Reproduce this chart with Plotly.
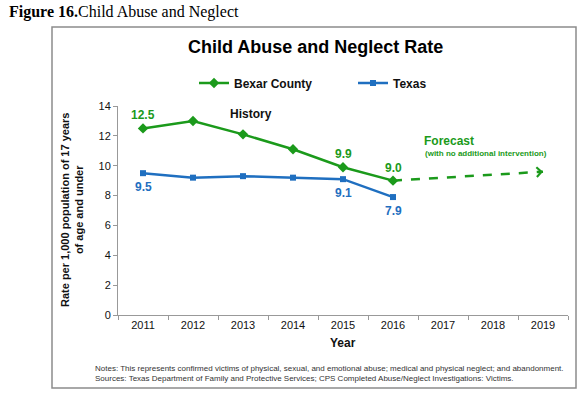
import plotly.graph_objects as go

years = [2011, 2012, 2013, 2014, 2015, 2016, 2017, 2018, 2019]
hist_years = [2011, 2012, 2013, 2014, 2015, 2016]
bexar = [12.5, 13.0, 12.1, 11.1, 9.9, 9.0]
texas = [9.5, 9.2, 9.3, 9.2, 9.1, 7.9]
forecast_years = [2016, 2019]
forecast_vals = [9.0, 9.6]
bexar_labels = {2011: "12.5", 2015: "9.9", 2016: "9.0"}
texas_labels = {2011: "9.5", 2015: "9.1", 2016: "7.9"}
y_ticks = [0, 2, 4, 6, 8, 10, 12, 14]

GREEN = "#1b9a1b"
BLUE = "#1f6fc0"
FONT = "Liberation Sans, Arial, sans-serif"
W, H = 587, 395

fig = go.Figure()
fig.add_trace(go.Scatter(x=hist_years, y=bexar, mode="lines+markers", name="<b>Bexar County</b>",
                         line=dict(color=GREEN, width=2.5),
                         marker=dict(symbol="diamond", size=8, color=GREEN)))
fig.add_trace(go.Scatter(x=hist_years, y=texas, mode="lines+markers", name="<b>Texas</b>",
                         line=dict(color=BLUE, width=2.5),
                         marker=dict(symbol="square", size=6, color=BLUE)))
fig.add_trace(go.Scatter(x=forecast_years, y=forecast_vals, mode="lines", showlegend=False,
                         line=dict(color=GREEN, width=2.5, dash="dash")))

ann = []
for yr, txt in bexar_labels.items():
    v = bexar[hist_years.index(yr)]
    ann.append(dict(x=yr, y=v, xref="x", yref="y", text=f"<b>{txt}</b>", showarrow=False,
                    yshift=13, font=dict(family=FONT, size=12, color=GREEN)))
for yr, txt in texas_labels.items():
    v = texas[hist_years.index(yr)]
    ann.append(dict(x=yr, y=v, xref="x", yref="y", text=f"<b>{txt}</b>", showarrow=False,
                    yshift=-14, font=dict(family=FONT, size=12, color=BLUE)))
# chevron arrow head at the end of the forecast line
ann.append(dict(x=forecast_years[1], y=forecast_vals[1], xref="x", yref="y",
                ax=forecast_years[1] - 0.12, ay=forecast_vals[1] - 0.024, axref="x", ayref="y",
                showarrow=True, arrowhead=4, arrowsize=0.75, arrowwidth=2.5, arrowcolor=GREEN, text=""))
ann.append(dict(x=2013.15, y=13.45, xref="x", yref="y", text="<b>History</b>", showarrow=False,
                font=dict(family=FONT, size=12, color="#111")))
ann.append(dict(x=2016.58, y=11.65, xref="x", yref="y", text="<b>Forecast</b>", showarrow=False,
                xanchor="left", font=dict(family=FONT, size=12, color=GREEN)))
ann.append(dict(x=2016.6, y=10.85, xref="x", yref="y", text="<b>(with no additional intervention)</b>",
                showarrow=False, xanchor="left", font=dict(family=FONT, size=8, color=GREEN)))
ann.append(dict(x=7 / W, y=1 - 12 / H, xref="paper", yref="paper", xanchor="left", yanchor="middle",
                text="<b>Figure 16.</b>Child Abuse and Neglect", showarrow=False,
                font=dict(family="Liberation Serif, Times New Roman, serif", size=16, color="#000")))
ann.append(dict(x=315 / W, y=1 - 47 / H, xref="paper", yref="paper", xanchor="center", yanchor="middle",
                text="<b>Child Abuse and Neglect Rate</b>", showarrow=False,
                font=dict(family=FONT, size=18, color="#000")))
ann.append(dict(x=72 / W, y=1 - 210 / H, xref="paper", yref="paper", xanchor="center", yanchor="middle",
                textangle=-90,
                text="<b>Rate per 1,000 population of 17 years<br>of age and under</b>", showarrow=False,
                font=dict(family=FONT, size=11, color="#111")))
ann.append(dict(x=343 / W, y=1 - 343 / H, xref="paper", yref="paper", xanchor="center", yanchor="middle",
                text="<b>Year</b>", showarrow=False, font=dict(family=FONT, size=12, color="#111")))
ann.append(dict(x=93 / W, y=1 - 373 / H, xref="paper", yref="paper", xanchor="left", yanchor="middle",
                align="left", showarrow=False,
                text="Notes: This represents confirmed victims of physical, sexual, and emotional abuse; medical and physical neglect; and abandonment.<br>"
                     "Sources: Texas Department of Family and Protective Services; CPS Completed Abuse/Neglect Investigations: Victims.",
                font=dict(family=FONT, size=8, color="#333")))

fig.update_layout(
    width=W, height=H, margin=dict(l=0, r=0, t=0, b=0, pad=0, autoexpand=False),
    paper_bgcolor="white", plot_bgcolor="white",
    font=dict(family=FONT, color="#111"),
    annotations=ann,
    showlegend=True,
    legend=dict(orientation="h", x=194 / W, y=1 - 83 / H, xanchor="left", yanchor="middle",
                entrywidth=114, font=dict(family=FONT, size=12, color="#111"),
                bgcolor="rgba(0,0,0,0)", itemwidth=30),
    shapes=[dict(type="rect", xref="paper", yref="paper", x0=52 / W, x1=576 / W,
                 y0=1 - 388 / H, y1=1 - 27 / H, line=dict(color="#8c8c8c", width=1.5))],
    xaxis=dict(domain=[118 / W, 568 / W], range=[2010.5, 2019.5], tickmode="array",
               tickvals=years, ticktext=[str(y) for y in years], ticks="", automargin=False,
               showline=True, linecolor="#999", linewidth=1, showgrid=False, zeroline=False,
               tickfont=dict(family=FONT, size=11, color="#111"),
               minor=dict(tickmode="array", tickvals=[y + 0.5 for y in [2010] + years],
                          ticks="outside", ticklen=4, tickcolor="#999", showgrid=False)),
    yaxis=dict(domain=[(H - 315) / H, (H - 106) / H], range=[0, 14], tickmode="array",
               tickvals=y_ticks, ticks="outside", ticklen=4, tickcolor="#999", automargin=False,
               showline=True, linecolor="#999", linewidth=1, showgrid=False, zeroline=False,
               tickfont=dict(family=FONT, size=11, color="#111")),
)

fig.write_html("out.html", config={"displayModeBar": False},
               post_script="document.body.style.margin='0';document.documentElement.style.overflow='hidden';document.body.style.overflow='hidden';")
